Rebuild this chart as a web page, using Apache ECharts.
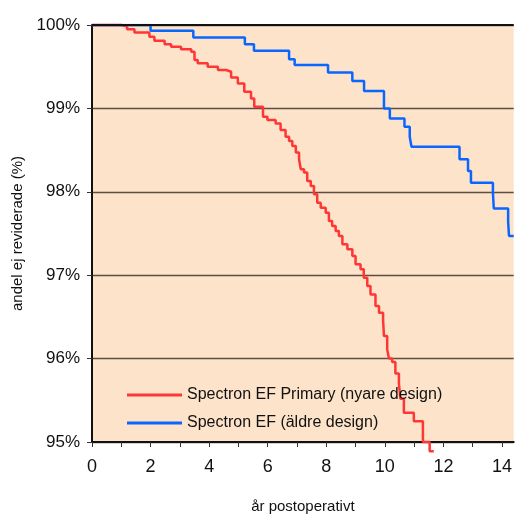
<!DOCTYPE html>
<html>
<head>
<meta charset="utf-8">
<script src="https://cdn.jsdelivr.net/npm/echarts@6/dist/echarts.min.js"></script>
<style>
html, body { margin: 0; padding: 0; background: #fff; }
#chart { width: 515px; height: 519px; }
</style>
</head>
<body>
<div id="chart"></div>
<script>
// tider (år) och andel ej reviderade (%)
var primaryYears = [0, 1.0, 1.2, 1.45, 1.96, 2.13, 2.48, 2.70, 3.04, 3.39, 3.50, 3.61, 3.95, 4.30, 4.58, 4.75, 4.98, 5.20, 5.43, 5.54,
  5.84, 5.99, 6.27, 6.44, 6.61, 6.73, 6.84, 6.96, 7.07, 7.13, 7.24, 7.35, 7.47, 7.58, 7.69, 7.81, 7.98, 8.09, 8.20, 8.32,
  8.43, 8.55, 8.72, 8.89, 9.00, 9.17, 9.28, 9.40, 9.51, 9.68, 9.80, 9.94, 9.97, 10.08, 10.14, 10.25, 10.36, 10.48, 10.53,
  10.65, 10.99, 11.30, 11.53, 11.67];
var primaryPct = [100, 99.98, 99.95, 99.91, 99.86, 99.81, 99.77, 99.74, 99.71, 99.68, 99.58, 99.54, 99.50, 99.46, 99.44, 99.37, 99.30, 99.20, 99.12, 99.02,
  98.90, 98.86, 98.82, 98.74, 98.66, 98.61, 98.55, 98.47, 98.39, 98.27, 98.23, 98.13, 98.07, 97.97, 97.87, 97.81, 97.75, 97.65, 97.59, 97.53,
  97.47, 97.37, 97.31, 97.23, 97.13, 97.07, 96.97, 96.87, 96.77, 96.63, 96.55, 96.46, 96.27, 96.11, 96.00, 95.96, 95.82, 95.70, 95.52,
  95.35, 95.25, 95.00, 94.89, 94.89];

var olderYears = [0, 2.0, 3.46, 5.22, 5.53, 6.73, 6.92, 8.06, 8.89, 9.29, 9.97, 10.17, 10.67, 10.85, 10.91, 12.55, 12.84, 12.94,
  13.69, 13.72, 14.21, 14.24, 14.4];
var olderPct = [100, 99.93, 99.85, 99.77, 99.69, 99.59, 99.52, 99.43, 99.33, 99.21, 99.00, 98.88, 98.78, 98.66, 98.54, 98.39, 98.25, 98.11,
  97.99, 97.80, 97.64, 97.47, 97.47];

var seriesNames = ["Spectron EF Primary (nyare design)", "Spectron EF (äldre design)"];
var xTickLabels = ["0", "2", "4", "6", "8", "10", "12", "14"];

function pairs(xs, ys) {
  var out = [];
  for (var i = 0; i < xs.length; i++) {
    out.push([xs[i], ys[i]]);
  }
  return out;
}

var font = "'Liberation Sans', Arial, sans-serif";

var chart = echarts.init(document.getElementById("chart"));
chart.setOption({
  animation: false,
  textStyle: { fontFamily: font },
  grid: {
    left: 92,
    top: 25,
    right: 0,
    bottom: 76,
    show: true,
    backgroundColor: "#fde3c9",
    borderWidth: 0
  },
  legend: {
    orient: "vertical",
    left: 122,
    top: 382,
    itemGap: 12,
    itemWidth: 55,
    itemHeight: 3,
    icon: "rect",
    textStyle: { fontFamily: font, fontSize: 16, color: "#111" },
    data: seriesNames
  },
  xAxis: {
    type: "value",
    min: 0,
    max: 14.4,
    interval: 1,
    name: "år postoperativt",
    nameLocation: "middle",
    nameGap: 57,
    nameTextStyle: { fontFamily: font, fontSize: 15, color: "#111" },
    axisLine: { show: true, onZero: false, lineStyle: { color: "#111", width: 2 } },
    axisTick: { show: true, length: 5, lineStyle: { color: "#333" } },
    axisLabel: {
      margin: 16,
      fontSize: 18,
      color: "#111",
      showMaxLabel: false,
      formatter: function(v) {
        var i = xTickLabels.indexOf(String(v));
        return i >= 0 ? xTickLabels[i] : "";
      }
    },
    splitLine: { show: false }
  },
  yAxis: {
    type: "value",
    min: 95,
    max: 100,
    interval: 1,
    name: "andel ej reviderade (%)",
    nameLocation: "middle",
    nameGap: 62,
    nameTextStyle: { fontFamily: font, fontSize: 15, color: "#111" },
    axisLine: { show: true, lineStyle: { color: "#111", width: 2 } },
    axisTick: { show: true, length: 5, lineStyle: { color: "#333" } },
    axisLabel: { margin: 12, fontSize: 17, color: "#111", formatter: "{value}%" },
    splitLine: { show: true, lineStyle: { color: "#5e4e44", width: 1.3 } }
  },
  series: [
    {
      name: seriesNames[0],
      type: "line",
      step: "end",
      showSymbol: false,
      clip: false,
      color: "#ff3636",
      lineStyle: { width: 2.5, color: "#ff3636" },
      data: pairs(primaryYears, primaryPct),
      z: 3
    },
    {
      name: seriesNames[1],
      type: "line",
      step: "end",
      showSymbol: false,
      color: "#0a66ff",
      lineStyle: { width: 2.5, color: "#0a66ff" },
      data: pairs(olderYears, olderPct),
      markLine: {
        silent: true,
        symbol: "none",
        label: { show: false },
        lineStyle: { color: "#111", width: 2, type: "solid" },
        data: [{ yAxis: 100 }]
      },
      z: 4
    }
  ]
});
</script>
</body>
</html>
